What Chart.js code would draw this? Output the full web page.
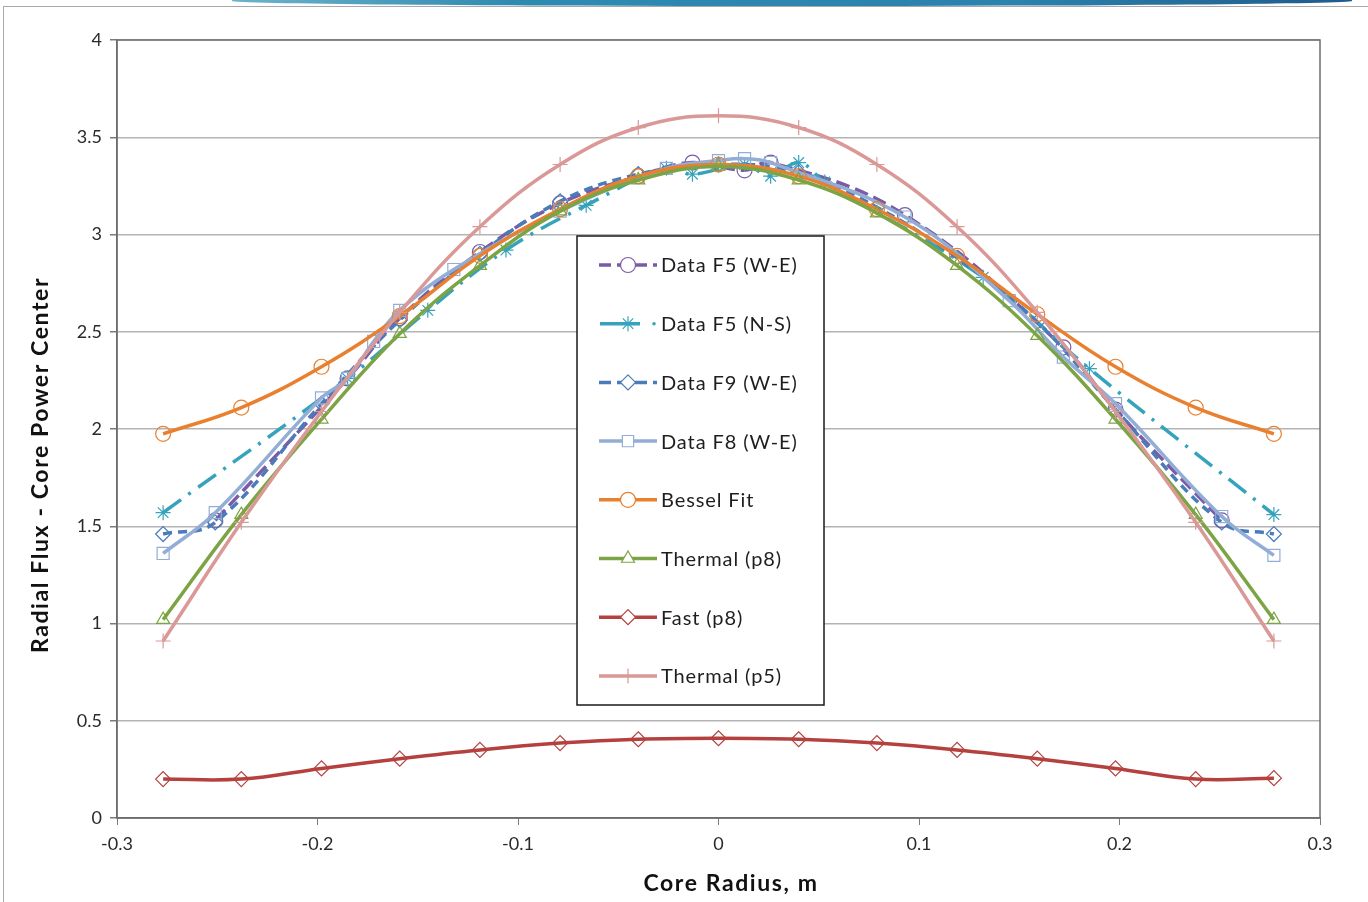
<!DOCTYPE html>
<html lang="en">
<head>
  <meta charset="UTF-8" />
  <title>Radial Flux - Core Power Center</title>
  <script src="https://cdn.jsdelivr.net/npm/chart.js@4.4.1/dist/chart.umd.min.js"></script>
  <style>
    body {
      margin: 0;
      background: #ffffff;
    }
    #wrap {
      position: relative;
      width: 1368px;
      height: 902px;
      overflow: hidden;
    }
    #banner {
      position: absolute;
      left: 232px;
      top: 0;
      width: 1120px;
      height: 6px;
      background: linear-gradient(90deg, #6fb3cc, #2e8bb0 25%, #2b82ad 70%, #1f5b8b);
      border-radius: 0 0 60% 60% / 0 0 100% 100%;
    }
    #frame {
      position: absolute;
      left: 3px;
      top: 6px;
      right: 0;
      bottom: 0;
      border-left: 1px solid #a8a8a8;
      border-top: 1px solid #a8a8a8;
      pointer-events: none;
    }
    canvas {
      position: absolute;
      left: 0;
      top: 0;
    }
  </style>
</head>
<body>
<div id="wrap">
  <canvas id="fluxChart" width="1368" height="902"></canvas>
  <div id="banner"></div>
  <div id="frame"></div>
</div>
<script>
  // model curves share one set of radii
  const xModel = [-0.277, -0.238, -0.198, -0.159, -0.119, -0.079, -0.040, 0, 0.040, 0.079, 0.119, 0.159, 0.198, 0.238, 0.277];
  const besselFit = [1.975, 2.11, 2.32, 2.58, 2.89, 3.13, 3.30, 3.36, 3.30, 3.13, 2.89, 2.59, 2.32, 2.11, 1.975];
  const thermalP8 = [1.02, 1.56, 2.05, 2.49, 2.84, 3.12, 3.28, 3.35, 3.28, 3.11, 2.84, 2.48, 2.05, 1.56, 1.02];
  const fastP8 = [0.20, 0.20, 0.255, 0.305, 0.35, 0.385, 0.405, 0.41, 0.405, 0.385, 0.35, 0.305, 0.255, 0.20, 0.205];
  const thermalP5 = [0.91, 1.52, 2.09, 2.60, 3.04, 3.36, 3.55, 3.61, 3.55, 3.36, 3.04, 2.60, 2.09, 1.52, 0.91];

  // measured data, each with its own radii
  const xF5we = [-0.251, -0.185, -0.159, -0.119, -0.079, -0.040, -0.013, 0.013, 0.026, 0.093, 0.172, 0.198, 0.251];
  const yF5we = [1.53, 2.26, 2.57, 2.91, 3.16, 3.30, 3.37, 3.33, 3.37, 3.10, 2.42, 2.10, 1.53];

  const xF5ns = [-0.277, -0.185, -0.145, -0.106, -0.066, -0.026, -0.013, 0.013, 0.026, 0.040, 0.053, 0.132, 0.185, 0.277];
  const yF5ns = [1.57, 2.26, 2.61, 2.92, 3.15, 3.34, 3.31, 3.36, 3.30, 3.37, 3.27, 2.78, 2.31, 1.56];

  const xF9we = [-0.277, -0.251, -0.198, -0.159, -0.119, -0.079, -0.040, 0, 0.040, 0.079, 0.119, 0.159, 0.198, 0.251, 0.277];
  const yF9we = [1.46, 1.52, 2.13, 2.56, 2.90, 3.17, 3.31, 3.36, 3.32, 3.14, 2.88, 2.55, 2.10, 1.52, 1.46];

  const xF8we = [-0.277, -0.251, -0.198, -0.185, -0.172, -0.159, -0.132, -0.079, -0.026, 0, 0.013, 0.026, 0.093, 0.145, 0.172, 0.198, 0.251, 0.277];
  const yF8we = [1.36, 1.57, 2.16, 2.26, 2.45, 2.61, 2.82, 3.12, 3.34, 3.38, 3.39, 3.37, 3.09, 2.66, 2.37, 2.13, 1.55, 1.35];

  const seriesNames = ['Data F5 (W-E)', 'Data F5 (N-S)', 'Data F9 (W-E)', 'Data F8 (W-E)', 'Bessel Fit', 'Thermal (p8)', 'Fast (p8)', 'Thermal (p5)'];
  const xTitle = 'Core Radius, m';
  const yTitle = 'Radial Flux - Core Power Center';

  const FONT = 'Lato, "Noto Sans", sans-serif';

  function pts(xs, ys) {
    return xs.map((x, i) => ({ x: x, y: ys[i] }));
  }

  const styles = [
    { color: '#7a5ca6', dash: [14, 6], marker: 'circle' },
    { color: '#35a3bb', dash: [22, 9, 3, 9], marker: 'star' },
    { color: '#4a7cba', dash: [9, 6], marker: 'rectRot' },
    { color: '#93aed6', dash: [], marker: 'rect' },
    { color: '#e8802f', dash: [], marker: 'circle' },
    { color: '#7ca444', dash: [], marker: 'triangle' },
    { color: '#b5413e', dash: [], marker: 'rectRot' },
    { color: '#da9896', dash: [], marker: 'cross' }
  ];

  const allData = [
    pts(xF5we, yF5we), pts(xF5ns, yF5ns), pts(xF9we, yF9we), pts(xF8we, yF8we),
    pts(xModel, besselFit), pts(xModel, thermalP8), pts(xModel, fastP8), pts(xModel, thermalP5)
  ];

  const datasets = allData.map((d, i) => ({
    label: seriesNames[i],
    data: d,
    borderColor: styles[i].color,
    borderWidth: 3.5,
    borderDash: styles[i].dash,
    tension: 0.4,
    fill: false,
    pointStyle: styles[i].marker,
    pointRadius: styles[i].marker === 'rect' ? 8.5 : 7.5,
    pointBorderWidth: 1.2,
    pointBorderColor: styles[i].color,
    pointBackgroundColor: 'rgba(255,255,255,0)',
    order: 7 - i
  }));

  function drawMarker(ctx, style, x, y, r) {
    ctx.beginPath();
    if (style === 'circle') {
      ctx.arc(x, y, r, 0, Math.PI * 2);
    } else if (style === 'rect') {
      ctx.rect(x - r * 0.75, y - r * 0.75, r * 1.5, r * 1.5);
    } else if (style === 'rectRot') {
      ctx.moveTo(x, y - r); ctx.lineTo(x + r, y); ctx.lineTo(x, y + r); ctx.lineTo(x - r, y); ctx.closePath();
    } else if (style === 'triangle') {
      ctx.moveTo(x, y - r); ctx.lineTo(x + r * 0.87, y + r * 0.5); ctx.lineTo(x - r * 0.87, y + r * 0.5); ctx.closePath();
    }
    if (style !== 'cross' && style !== 'star') {
      ctx.fillStyle = '#ffffff';
      ctx.fill();
      ctx.stroke();
      return;
    }
    ctx.moveTo(x, y - r); ctx.lineTo(x, y + r);
    ctx.moveTo(x - r, y); ctx.lineTo(x + r, y);
    if (style === 'star') {
      const d = r * 0.7;
      ctx.moveTo(x - d, y - d); ctx.lineTo(x + d, y + d);
      ctx.moveTo(x - d, y + d); ctx.lineTo(x + d, y - d);
    }
    ctx.stroke();
  }

  // plot border, axis titles and the boxed legend inside the plot
  const boxLegend = {
    id: 'boxLegend',
    beforeDatasetsDraw(chart) {
      const a = chart.chartArea;
      const ctx = chart.ctx;
      ctx.save();
      ctx.strokeStyle = '#6e6e6e';
      ctx.lineWidth = 1.5;
      ctx.strokeRect(a.left, a.top, a.right - a.left, a.bottom - a.top);
      ctx.restore();
    },
    afterDraw(chart) {
      const ctx = chart.ctx;
      ctx.save();

      ctx.fillStyle = '#111111';
      ctx.font = 'bold 23px ' + FONT;
      ctx.letterSpacing = '1.6px';
      ctx.textAlign = 'center';
      ctx.textBaseline = 'middle';
      ctx.fillText(xTitle, 731, 884);
      ctx.save();
      ctx.translate(41, 465);
      ctx.rotate(-Math.PI / 2);
      ctx.fillText(yTitle, 0, 0);
      ctx.restore();

      const bx = 577, by = 236, bw = 247, bh = 469;
      ctx.fillStyle = '#ffffff';
      ctx.fillRect(bx, by, bw, bh);
      ctx.strokeStyle = '#1a1a1a';
      ctx.lineWidth = 1.5;
      ctx.strokeRect(bx, by, bw, bh);
      ctx.font = '20px ' + FONT;
      ctx.letterSpacing = '0.9px';
      ctx.textAlign = 'left';
      seriesNames.forEach((name, i) => {
        const y = 265 + i * 58.7;
        const st = styles[i];
        ctx.strokeStyle = st.color;
        ctx.lineWidth = 3.5;
        ctx.setLineDash(st.dash.length ? [12, 6] : []);
        ctx.beginPath();
        if (i === 1) {
          ctx.setLineDash([]);
          ctx.moveTo(600, y); ctx.lineTo(640, y);
          ctx.stroke();
          ctx.beginPath();
          ctx.fillStyle = st.color;
          ctx.arc(654, y, 1.8, 0, Math.PI * 2);
          ctx.fill();
        } else {
          ctx.moveTo(599, y); ctx.lineTo(657, y);
          ctx.stroke();
        }
        ctx.setLineDash([]);
        ctx.lineWidth = 1.2;
        drawMarker(ctx, st.marker, 628, y, 7.5);
        ctx.fillStyle = '#1e1e1e';
        ctx.fillText(name, 661, y + 1);
      });
      ctx.restore();
    }
  };

  new Chart(document.getElementById('fluxChart'), {
    type: 'line',
    data: { datasets: datasets },
    plugins: [boxLegend],
    options: {
      responsive: false,
      animation: false,
      layout: { padding: { top: 40, right: 48, left: 18, bottom: 0 } },
      plugins: {
        legend: { display: false },
        tooltip: { enabled: false }
      },
      scales: {
        x: {
          type: 'linear',
          min: -0.3,
          max: 0.3,
          afterFit: s => { s.height = 84; },
          ticks: {
            stepSize: 0.1,
            padding: 8,
            color: '#2a2a2a',
            font: { family: FONT, size: 18 },
            callback: v => String(Number(v.toFixed(1)))
          },
          grid: { drawOnChartArea: false, drawTicks: true, tickLength: 7, color: '#7a7a7a' },
          border: { color: '#6e6e6e', width: 1.5 }
        },
        y: {
          min: 0,
          max: 4,
          afterFit: s => { s.width = 99; },
          ticks: {
            stepSize: 0.5,
            padding: 8,
            color: '#2a2a2a',
            font: { family: FONT, size: 18 },
            callback: v => String(Number(v.toFixed(1)))
          },
          grid: { color: '#b4b4b4', lineWidth: 1.5, tickLength: 7, tickColor: '#7a7a7a' },
          border: { color: '#6e6e6e', width: 1.5 }
        }
      }
    }
  });
</script>
</body>
</html>
